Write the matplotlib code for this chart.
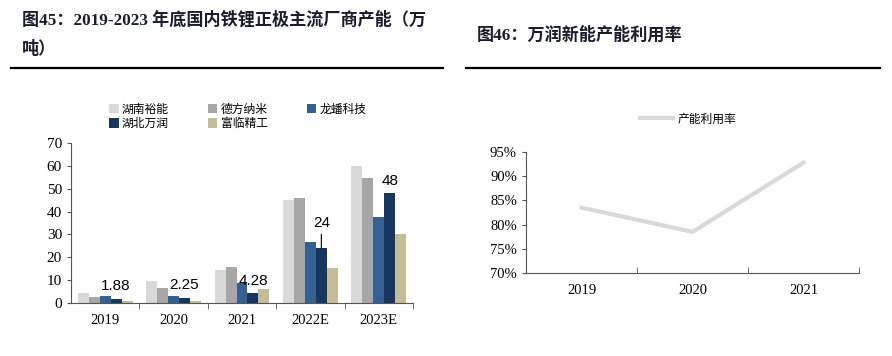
"""Two panels: LFP cathode capacity by maker, and Wanrun capacity utilisation."""

import matplotlib
matplotlib.use('Agg')
import matplotlib.pyplot as plt
from matplotlib.lines import Line2D
from matplotlib.ticker import FuncFormatter
import numpy as np

plt.rcParams['font.family'] = ['Liberation Serif', 'Noto Sans CJK SC']

# left panel data
years = ['2019', '2020', '2021', '2022E', '2023E']
makers = ['湖南裕能', '德方纳米', '龙蟠科技', '湖北万润', '富临精工']
hunan_yuneng = [4.5, 9.5, 14.3, 45.0, 60.0]
defang_nano = [2.6, 6.6, 15.6, 45.9, 54.7]
longpan_tech = [3.1, 3.1, 8.6, 26.6, 37.7]
hubei_wanrun = [1.88, 2.25, 4.28, 24.0, 48.0]
fulin_precision = [1.0, 1.0, 6.0, 15.2, 30.3]
wanrun_labels = ['1.88', '2.25', '4.28', '24', '48']

# right panel data
util_years = ['2019', '2020', '2021']
util_rate = [0.835, 0.785, 0.928]

colors = ['#D9D9D9', '#A6A6A6', '#376092', '#17375E', '#C4BD97']
title_color = '#1C1C2A'
cjk = ['Noto Sans CJK SC', 'DejaVu Sans']

fig = plt.figure(figsize=(8.92, 3.56), dpi=100)

# titles and rules
fig.text(22 / 892, 1 - 20 / 356, '图45：2019-2023 年底国内铁锂正极主流厂商产能（万',
         fontsize=12.3, fontweight='bold', color=title_color, va='center', ha='left')
fig.text(22 / 892, 1 - 50 / 356, '吨）', fontsize=12.3, fontweight='bold',
         color=title_color, va='center', ha='left')
fig.text(477 / 892, 1 - 35 / 356, '图46：万润新能产能利用率', fontsize=12.3,
         fontweight='bold', color=title_color, va='center', ha='left')
for x0, x1 in [(11, 443), (466, 880)]:
    fig.add_artist(Line2D([x0 / 892, x1 / 892], [1 - 68 / 356] * 2,
                          color='black', lw=1.6))

# left bar chart
ax = fig.add_axes([71 / 892, 53 / 356, 342 / 892, 160 / 356])
series = [hunan_yuneng, defang_nano, longpan_tech, hubei_wanrun, fulin_precision]
x = np.arange(len(years))
w = 0.16
bars = []
for i, (vals, c, name) in enumerate(zip(series, colors, makers)):
    b = ax.bar(x + (i - 2) * w, vals, w, color=c, label=name)
    bars.append(b)

for i, (val, lab) in enumerate(zip(hubei_wanrun, wanrun_labels)):
    xi = x[i] + w
    if lab == '24':
        ax.annotate(lab, xy=(xi, val), xytext=(0, 13), textcoords='offset points',
                    ha='center', va='bottom', fontsize=11, family='Liberation Sans',
                    arrowprops=dict(arrowstyle='-', color='black', lw=0.8,
                                    shrinkA=1, shrinkB=0))
    else:
        ax.annotate(lab, xy=(xi, val), xytext=(0, 4), textcoords='offset points',
                    ha='center', va='bottom', fontsize=11, family='Liberation Sans')

ax.set_xlim(-0.5, len(years) - 0.5)
ax.set_ylim(0, 70)
ax.set_yticks(range(0, 71, 10))
ax.set_xticks(x)
ax.set_xticklabels(years)
ax.set_xticks(np.arange(0.5, len(years), 1), minor=True)
ax.tick_params(axis='x', which='major', length=0, labelsize=10.5, pad=8)
ax.tick_params(axis='x', which='minor', length=4, direction='out', color='#555555')
ax.tick_params(axis='y', length=3, labelsize=11, color='#555555')
for s in ['top', 'right']:
    ax.spines[s].set_visible(False)
for s in ['left', 'bottom']:
    ax.spines[s].set_color('#555555')

handles = [bars[k] for k in [0, 3, 1, 4, 2]]
labels = [makers[k] for k in [0, 3, 1, 4, 2]]
fig.legend(handles, labels, ncol=3, loc='center', bbox_to_anchor=(238 / 892, 1 - 116.5 / 356),
           frameon=False, prop={'family': cjk, 'size': 8.5}, handlelength=0.8,
           handleheight=0.8, handletextpad=0.3, columnspacing=3.3, labelspacing=0.1)

# right line chart
ax2 = fig.add_axes([526 / 892, 83 / 356, 333 / 892, 121 / 356])
ax2.plot(np.arange(len(util_years)), util_rate, color='#D9D9D9', lw=3,
         label='产能利用率')
ax2.set_xlim(-0.5, len(util_years) - 0.5)
ax2.set_ylim(0.70, 0.95)
ax2.set_yticks(np.arange(0.70, 0.951, 0.05))
ax2.yaxis.set_major_formatter(FuncFormatter(lambda v, p: f'{v * 100:.0f}%'))
ax2.set_xticks(np.arange(len(util_years)))
ax2.set_xticklabels(util_years)
ax2.set_xticks(np.arange(0.5, len(util_years), 1), minor=True)
ax2.tick_params(axis='x', which='major', length=0, labelsize=10.5, pad=8)
ax2.tick_params(axis='x', which='minor', length=4, direction='in', color='#555555')
ax2.tick_params(axis='y', length=3, labelsize=10.5, color='#555555')
for s in ['top', 'right']:
    ax2.spines[s].set_visible(False)
for s in ['left', 'bottom']:
    ax2.spines[s].set_color('#555555')
fig.legend(loc='center', bbox_to_anchor=(688 / 892, 1 - 119 / 356), frameon=False,
           handles=ax2.get_lines(), prop={'family': cjk, 'size': 8.5},
           handlelength=2.8, handletextpad=0.4)

fig.savefig('out.png', dpi=100)
